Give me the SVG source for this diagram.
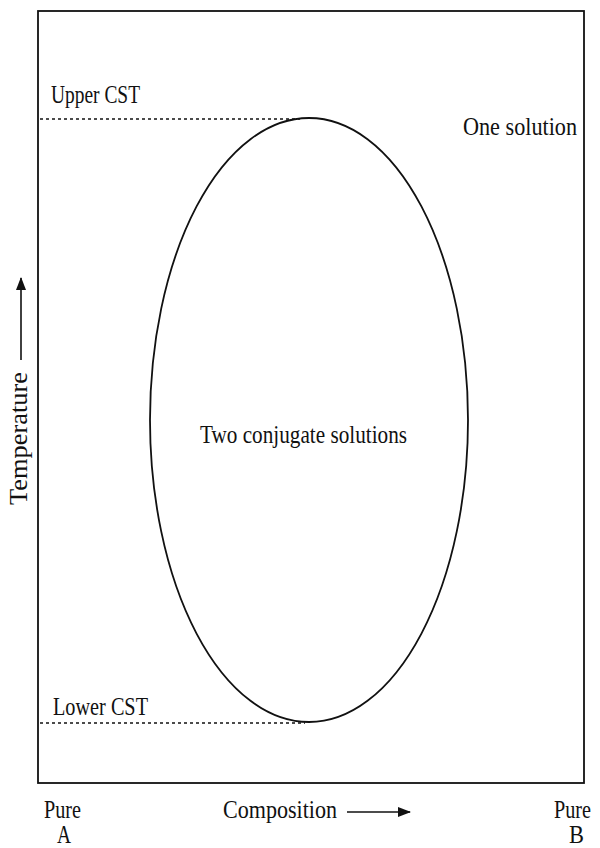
<svg xmlns="http://www.w3.org/2000/svg" width="600" height="848" viewBox="0 0 600 848">
<style>
text{font-family:"Liberation Serif","Times New Roman",serif;font-size:25px;fill:#111}
.dash{stroke:#111;stroke-width:1.6;stroke-dasharray:3,3;fill:none}
</style>
<defs>
<marker id="ah" markerWidth="13" markerHeight="10" refX="12" refY="5" orient="auto" markerUnits="userSpaceOnUse">
<path d="M0,0 L13,5 L0,10 Z" fill="#111"/>
</marker>
</defs>
<rect x="38" y="11" width="546" height="772" fill="none" stroke="#111" stroke-width="1.8"/>
<g id="curve"><ellipse cx="309" cy="420" rx="159" ry="302" fill="none" stroke="#111" stroke-width="1.8"/></g>
<g id="connectors">
<line class="dash" x1="40" y1="119" x2="300" y2="119"/>
<line class="dash" x1="40" y1="723" x2="305" y2="723"/>
<line x1="347" y1="812" x2="410" y2="812" stroke="#111" stroke-width="1.6" marker-end="url(#ah)"/>
<line x1="21" y1="360" x2="21" y2="278" stroke="#111" stroke-width="1.6" marker-end="url(#ah)"/>
</g>
<g id="upper"><text x="51" y="103" textLength="89" lengthAdjust="spacingAndGlyphs">Upper CST</text></g>
<g id="lower"><text x="53" y="715" textLength="95" lengthAdjust="spacingAndGlyphs">Lower CST</text></g>
<g id="one"><text x="463" y="135" textLength="114" lengthAdjust="spacingAndGlyphs">One solution</text></g>
<g id="two"><text x="200" y="443" textLength="207" lengthAdjust="spacingAndGlyphs">Two conjugate solutions</text></g>
<g id="comp"><text x="223" y="818" textLength="114" lengthAdjust="spacingAndGlyphs">Composition</text></g>
<g id="pureA"><text x="44" y="818" textLength="37" lengthAdjust="spacingAndGlyphs">Pure</text><text x="57" y="843" textLength="14" lengthAdjust="spacingAndGlyphs">A</text></g>
<g id="pureB"><text x="554" y="818" textLength="37" lengthAdjust="spacingAndGlyphs">Pure</text><text x="569" y="843" textLength="15" lengthAdjust="spacingAndGlyphs">B</text></g>
<g id="temp"><text transform="translate(27,505) rotate(-90)" textLength="133" lengthAdjust="spacingAndGlyphs">Temperature</text></g>
</svg>
